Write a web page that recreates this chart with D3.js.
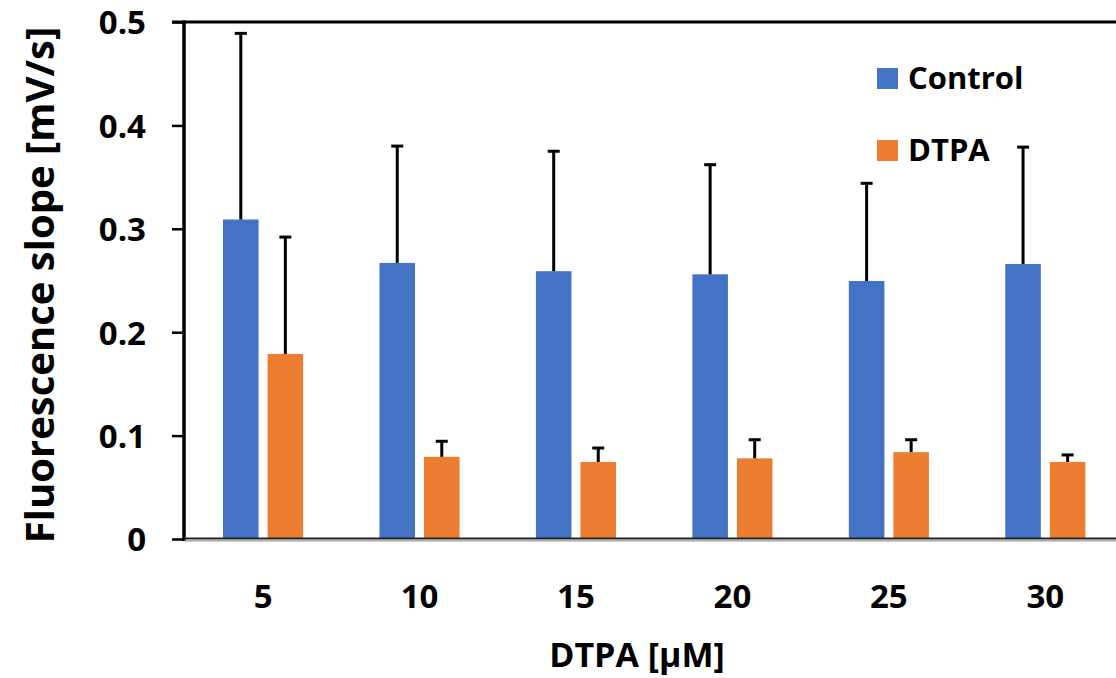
<!DOCTYPE html>
<html><head><meta charset="utf-8">
<script src="https://cdn.jsdelivr.net/npm/d3@7"></script>
<style>body{margin:0;background:#fff}svg{display:block}text{font-family:"Open Sans",sans-serif;font-weight:bold;fill:#000}</style>
</head><body><svg id="c" width="1116" height="678"></svg>
<script>
const categories = ["5","10","15","20","25","30"];
const series = ["Control","DTPA"];
const controlValues = [0.309, 0.267, 0.259, 0.256, 0.2495, 0.266];
const controlErrors = [0.180, 0.113, 0.116, 0.106, 0.0945, 0.113];
const dtpaValues = [0.179, 0.0795, 0.0745, 0.078, 0.084, 0.0745];
const dtpaErrors = [0.113, 0.015, 0.0135, 0.018, 0.012, 0.0068];
const yTicks = [0, 0.1, 0.2, 0.3, 0.4, 0.5];
const colors = {Control:"#4472C4", DTPA:"#ED7D31"};

const svg = d3.select("#c");
const x0 = d3.scaleBand().domain(categories).range([185, 1123.4]).paddingInner(0.488).paddingOuter(0.243);
const x1 = d3.scaleBand().domain(series).range([0, x0.bandwidth()]).paddingInner(0.202);
const y = d3.scaleLinear().domain([0, 0.5]).range([539, 22]);

const rows = categories.map((c,i)=>({cat:c, items:[
  {s:"Control", v:controlValues[i], e:controlErrors[i]},
  {s:"DTPA", v:dtpaValues[i], e:dtpaErrors[i]}]}));

const g = svg.append("g").selectAll("g").data(rows).join("g")
  .attr("transform", d=>`translate(${x0(d.cat)},0)`);
g.selectAll("rect").data(d=>d.items).join("rect")
  .attr("x", d=>x1(d.s)).attr("width", x1.bandwidth())
  .attr("y", d=>y(d.v)).attr("height", d=>y(0)-y(d.v))
  .attr("fill", d=>colors[d.s]);
// error bars
g.selectAll("line.stem").data(d=>d.items).join("line").attr("class","stem")
  .attr("x1", d=>x1(d.s)+x1.bandwidth()/2).attr("x2", d=>x1(d.s)+x1.bandwidth()/2)
  .attr("y1", d=>y(d.v)).attr("y2", d=>y(d.v+d.e))
  .attr("stroke","#000").attr("stroke-width",3);
g.selectAll("line.cap").data(d=>d.items).join("line").attr("class","cap")
  .attr("x1", d=>x1(d.s)+x1.bandwidth()/2-6).attr("x2", d=>x1(d.s)+x1.bandwidth()/2+6)
  .attr("y1", d=>y(d.v+d.e)).attr("y2", d=>y(d.v+d.e))
  .attr("stroke","#000").attr("stroke-width",3);

// y axis
const yAxis = svg.append("g").attr("transform","translate(184,0)")
  .call(d3.axisLeft(y).tickValues(yTicks).tickFormat(d=>d===0?"0":d3.format(".1f")(d)).tickSize(12).tickPadding(26));
yAxis.select(".domain").remove();
yAxis.selectAll(".tick line").attr("stroke","#000").attr("stroke-width",2.5);
yAxis.selectAll(".tick text").style("font-size","33px").attr("dy","0.36em");
svg.append("line").attr("x1",184).attr("x2",184).attr("y1",20.5).attr("y2",541)
  .attr("stroke","#000").attr("stroke-width",3.5);
// top border
svg.append("line").attr("x1",172).attr("x2",1116).attr("y1",22).attr("y2",22)
  .attr("stroke","#000").attr("stroke-width",3);
// x axis
svg.append("line").attr("x1",184).attr("x2",1116).attr("y1",538.5).attr("y2",538.5)
  .attr("stroke","#222").attr("stroke-width",2);
svg.append("line").attr("x1",184).attr("x2",1116).attr("y1",540.8).attr("y2",540.8)
  .attr("stroke","#999").attr("stroke-width",1.2);
const xAxis = svg.append("g").attr("transform","translate(0,539)")
  .call(d3.axisBottom(x0).tickSize(0).tickPadding(0));
xAxis.select(".domain").remove();
xAxis.selectAll(".tick text").style("font-size","33px").attr("y",69).attr("dy",0);

// axis titles
svg.append("text").attr("x",637).attr("y",667).attr("text-anchor","middle")
  .style("font-size","34px").text("DTPA [μM]");
svg.append("text").attr("transform","translate(54,285) rotate(-90)").attr("text-anchor","middle")
  .style("font-size","40px").text("Fluorescence slope [mV/s]");

// legend
const leg = svg.append("g").selectAll("g").data(series).join("g")
  .attr("transform",(d,i)=>`translate(877,${68+i*72})`);
leg.append("rect").attr("width",21).attr("height",21).attr("fill",d=>colors[d]);
leg.append("text").attr("x",31).attr("y",21).style("font-size","31px").text(d=>d);
</script></body></html>
